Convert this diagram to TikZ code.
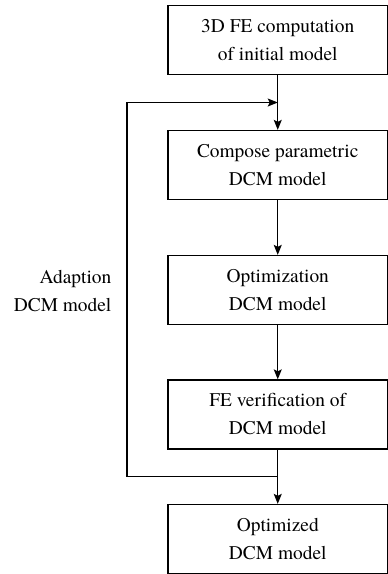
\documentclass[tikz,border=0pt]{standalone}
\usepackage{fontspec}
\setmainfont{texgyretermes}[Extension=.otf, UprightFont=*-regular]
\usetikzlibrary{arrows.meta,calc}

\tikzset{every picture/.style={line width=1.3pt}}
\tikzset{
  procbox/.style={draw, minimum width=219.5pt, minimum height=69pt, inner sep=0pt, align=center, font=\fontsize{19.4}{28}\selectfont},
  flow/.style={-{Stealth[length=10pt,width=8pt,inset=2pt]}},
}

\begin{document}
\begin{tikzpicture}[x=1pt,y=1pt,yscale=-1]
\useasboundingbox (0,0) rectangle (388,574);
%Process boxes
\node[procbox] (fecomp) at (277.75,40) {3D FE computation\\of initial model};
\node[procbox] (compose) at (277.75,165) {Compose parametric\\DCM model};
\node[procbox] (optim) at (277.75,290) {Optimization\\DCM model};
\node[procbox] (verif) at (277.75,414.5) {FE verification of\\DCM model};
\node[procbox] (optimized) at (277.75,539) {Optimized\\DCM model};
%Junctions of the loop
\coordinate (merge) at ($(fecomp.south)!0.5!(compose.north)$);
\coordinate (split) at ($(verif.south)!0.5!(optimized.north)$);
\coordinate (back) at (127,290);
%Straight Lines
\draw[flow] (fecomp) -- (compose);
\draw[flow] (compose) -- (optim);
\draw[flow] (optim) -- (verif);
\draw[flow] (verif) -- (optimized);
\draw[flow] (split) -| (back) |- (merge);

% Text Node
\node[anchor=east, align=right, inner sep=0pt, font=\fontsize{19.4}{28}\selectfont] (adapt) at (112,291) {Adaption\\DCM model};

\end{tikzpicture}
\end{document}
